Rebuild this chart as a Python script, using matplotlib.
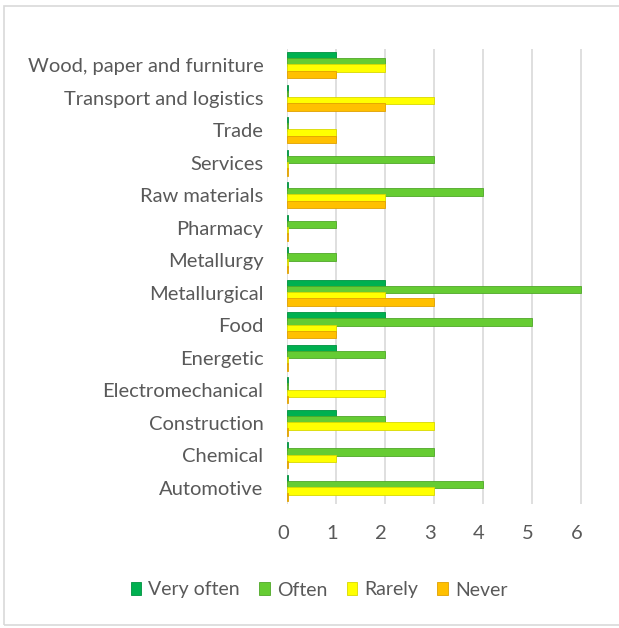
import matplotlib
matplotlib.use("Agg")
import matplotlib.pyplot as plt
import matplotlib.transforms as mtransforms
from matplotlib.patches import Rectangle
import numpy as np

categories = ["Automotive", "Chemical", "Construction", "Electromechanical", "Energetic",
              "Food", "Metallurgical", "Metallurgy", "Pharmacy", "Raw materials",
              "Services", "Trade", "Transport and logistics", "Wood, paper and furniture"]
very_often = [0, 0, 1, 0, 1, 2, 2, 0, 0, 0, 0, 0, 0, 1]
often      = [4, 3, 2, 0, 2, 5, 6, 1, 1, 4, 3, 0, 0, 2]
rarely     = [3, 1, 3, 2, 0, 1, 2, 0, 0, 2, 0, 1, 3, 2]
never      = [0, 0, 0, 0, 0, 1, 3, 0, 0, 2, 0, 1, 2, 1]
series_names = ["Very often", "Often", "Rarely", "Never"]
colors = ["#00B050", "#66CC33", "#FFFF00", "#FFC000"]
edges = ["#00913F", "#4FA828", "#D8D800", "#E0A000"]
xticks = [0, 1, 2, 3, 4, 5, 6]

plt.rcParams['font.family'] = ['Lato', 'DejaVu Sans']
text_color = "#595959"

fig = plt.figure(figsize=(6.19, 6.28), dpi=100)
fig.patches.append(Rectangle((4/619, 3/628), 1.0, 1 - 9/628, transform=fig.transFigure,
                             fill=False, edgecolor="#D9D9D9", linewidth=1.2))
ax = fig.add_axes([287/619, 1 - 504/628, (583 - 287)/619, (504 - 48.75)/628])

y = np.arange(len(categories))
h = 0.19
offsets = [1.5 * h, 0.5 * h, -0.5 * h, -1.5 * h]
series = [very_often, often, rarely, never]
for vals, name, c, ec, off in zip(series, series_names, colors, edges, offsets):
    vals = np.array(vals, dtype=float)
    widths = np.where(vals == 0, 0.03, vals)
    ax.barh(y + off, widths, height=h * 1.2, color=c, edgecolor=ec, linewidth=0.6,
            label=name, zorder=3)

ax.set_xlim(0, 6.05)
ax.set_ylim(-0.5, len(categories) - 0.5)
ax.set_yticks(y)
ax.set_yticklabels(categories, fontsize=14.5, color=text_color)
ax.set_xticks(xticks)
ax.set_xticklabels([str(t) for t in xticks], fontsize=14.5, color=text_color)
ax.tick_params(axis='both', length=0)
ax.tick_params(axis='y', pad=17)
ax.tick_params(axis='x', pad=15)
off = mtransforms.ScaledTranslation(-4/100, 0, fig.dpi_scale_trans)
for lab in ax.get_xticklabels():
    lab.set_transform(lab.get_transform() + off)
for s in ax.spines.values():
    s.set_visible(False)
ax.grid(axis='x', color="#D9D9D9", linewidth=1.2, zorder=0)
ax.set_axisbelow(True)

leg = fig.legend(loc='center', bbox_to_anchor=(319/619, 1 - 590/628), ncol=4, frameon=False,
                 fontsize=14, handlelength=0.55, handleheight=0.65, handletextpad=0.35,
                 columnspacing=1.0)
for t in leg.get_texts():
    t.set_color(text_color)

fig.savefig("out.png", dpi=100)
